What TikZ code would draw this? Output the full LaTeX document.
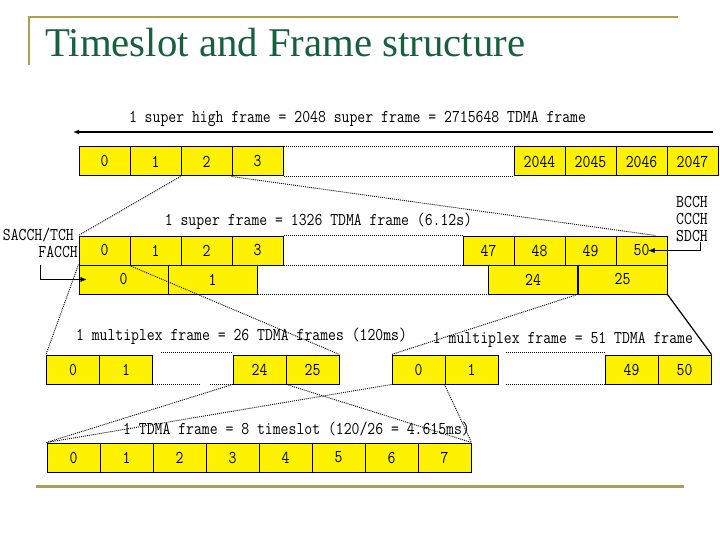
\documentclass[tikz,border=0pt]{standalone}
\usepackage{fontspec}
\setmainfont{Liberation Serif}
\newfontfamily\slotfont[FakeStretch=0.85]{Latin Modern Mono}
\usetikzlibrary{arrows.meta,calc}
\definecolor{titlegreen}{RGB}{22,96,62}
\definecolor{rulegold}{RGB}{172,158,84}
\tikzset{
  slot/.style  ={draw,fill=yellow,line width=1pt,minimum width=51pt,minimum height=29pt,inner sep=0pt,font=\slotfont\fontsize{18}{17}\selectfont},
  wslot/.style ={slot,minimum width=89pt},
  tslot/.style ={slot,minimum width=53pt},
  dotl/.style  ={dash pattern=on 1pt off 1pt,line width=0.9pt},
  ar/.style    ={-{Latex[length=6pt,width=5pt]}},
  lbl/.style   ={font=\slotfont\fontsize{18}{17}\selectfont,inner sep=0pt},
  rule/.style  ={rulegold,line width=2.5pt},
}
\begin{document}
\begin{tikzpicture}[x=1pt,y=-1pt]
  \useasboundingbox (0,0) rectangle (720,540);
  % title and rules
  \draw[rule] (29,65) -- (29,17) -- (678,17);
  \draw[rule,line width=3pt] (36,486) -- (684,486);
  \node[anchor=base west,inner sep=0pt,text=titlegreen,font=\fontsize{40.8}{44}\selectfont] (title) at (45,57) {Timeslot and Frame structure};

  % super high frame
  \coordinate (hl) at (73,132); \coordinate (hr) at (713,132);
  \draw[ar,line width=1.6pt] (hr) -- (hl);
  \node[lbl] (lhf) at (357.5,119) {1 super high frame = 2048 super frame = 2715648 TDMA frame};
  \foreach \i in {0,...,3} \node[slot] (hf\i) at (104.5+51*\i,161.5) {\i};
  \foreach \i [count=\k from 0] in {2044,...,2047} \node[slot] (hf\i) at (539.5+51*\k,161.5) {\i};
  \draw[dotl] (hf3.north east) -- (hf2044.north west);
  \draw[dotl] (hf3.south east) -- (hf2044.south west);

  % super frame
  \node[lbl] (lsf) at (318.5,221) {1 super frame = 1326 TDMA frame (6.12s)};
  \foreach \i in {0,...,3} \node[slot] (sf\i) at (104.5+51*\i,250.5) {\i};
  \foreach \i [count=\k from 0] in {47,...,50} \node[slot] (sf\i) at (488.5+51*\k,250.5) {\i};
  \node[wslot] (mf0) at (123.5,279.5) {0};
  \node[wslot] (mf1) at (212.5,279.5) {1};
  \node[wslot] (mf24) at (533,279.5) {24};
  \node[wslot] (mf25) at (622.5,279.5) {25};
  \draw[dotl] (sf3.north east) -- (sf47.north west);
  \draw[dotl] (sf3.south east) -- (sf47.south west);
  \draw[dotl] (mf1.south east) -- (mf24.south west);
  \draw[dotl] (hf2.south west) -- (sf0.north west);
  \draw[dotl] (hf3.south west) -- ([xshift=-12pt]sf50.north east);

  % channel labels
  \node[lbl,anchor=east] (sacch) at (74,235) {SACCH/TCH};
  \node[lbl,anchor=east] (facch) at (78,252) {FACCH};
  \draw[ar] ([shift={(2pt,-7pt)}]facch.south west) |- ([xshift=8pt]mf0.west);
  \node[lbl,align=center] (bcch) at (692,219) {BCCH\\CCCH\\SDCH};
  \draw[ar] ([xshift=-8pt]bcch.south east) |- ([xshift=7pt]sf50.center);

  % multiplex frames
  \node[lbl] (l26) at (241.5,336) {1 multiplex frame = 26 TDMA frames (120ms)};
  \node[lbl] (l51) at (563,340) {1 multiplex frame = 51 TDMA frame};
  \foreach \i in {0,1} \node[tslot] (ta\i) at (73+53*\i,369.5) {\i};
  \foreach \i [count=\k from 0] in {24,25} \node[tslot] (ta\i) at (259.5+53*\k,369.5) {\i};
  \foreach \i in {0,1} \node[tslot] (tb\i) at (418.5+53*\i,369.5) {\i};
  \foreach \i [count=\k from 0] in {49,50} \node[tslot] (tb\i) at (631.5+53*\k,369.5) {\i};
  \draw[dotl] ([shift={(8pt,2pt)}]ta1.north east) -- ([yshift=2pt]ta24.north west);
  \draw[dotl] (ta1.south east) -- ($(ta1.south east)!.6!(ta24.south west)$)
              ($(ta1.south east)!.72!(ta24.south west)$) -- (ta24.south west);
  \draw[dotl] ([shift={(7pt,2pt)}]tb1.north east) -- ([yshift=2pt]tb49.north west);
  \draw[dotl] ([xshift=7pt]tb1.south east) -- (tb49.south west);
  \draw[dotl] (mf0.north west) -- (ta0.north west);
  \draw[dotl] (sf1.south west) -- (ta25.north east);
  \draw[dotl] (mf25.south west) -- (tb0.north west);
  \draw[line width=1.2pt] (mf25.south east) -- (tb50.north east);

  % TDMA frame
  \node[lbl] (ltd) at (296.5,429) {1 TDMA frame = 8 timeslot (120/26 = 4.615ms)};
  \foreach \i in {0,...,7} \node[tslot] (ts\i) at (73.5+53*\i,457.5) {\i};
  \draw[dotl] (ta24.south west) -- (ts0.north west);
  \draw[dotl] (tb0.south west) -- (ts0.north west);
  \draw[dotl] (ta24.south east) -- (ts7.north east);
  \draw[dotl] (tb1.south west) -- (ts7.north east);
\end{tikzpicture}
\end{document}
